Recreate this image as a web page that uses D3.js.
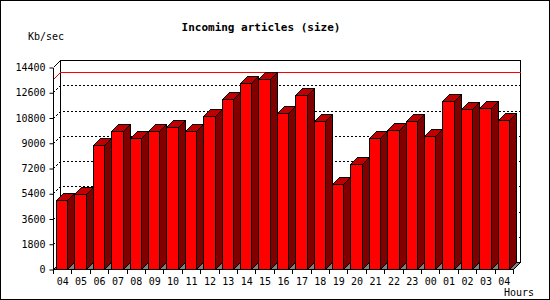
<!doctype html>
<html>
<head>
<meta charset="utf-8">
<title>Incoming articles (size)</title>
<style>
  body { margin: 0; background: #fff; }
  text { font-family: "DejaVu Sans Mono", monospace; font-size: 10px; fill: #000; }
  path, rect { shape-rendering: crispEdges; }
</style>
</head>
<body>
<svg width="550" height="300"></svg>
<script src="https://d3js.org/d3.v7.min.js"></script>
<script>
var hours = ["04","05","06","07","08","09","10","11","12","13","14","15","16",
             "17","18","19","20","21","22","23","00","01","02","03","04"];
var sizes = [4980, 5400, 8850, 9870, 9400, 9850, 10190, 9850, 10970, 12190, 13330, 13610, 11190,
             12470, 10620, 6120, 7550, 9400, 9970, 10620, 9550, 12040, 11470, 11540, 10690];
var yTicks = [0, 1800, 3600, 5400, 7200, 9000, 10800, 12600, 14400];

var svg = d3.select("svg");
var depth = 7;

// outer frame
svg.append("rect")
    .attr("x", 0.5).attr("y", 0.5)
    .attr("width", 549).attr("height", 299)
    .attr("fill", "#fff").attr("stroke", "#000");

var x = d3.scaleBand()
    .domain(d3.range(hours.length))
    .range([53.5, 53.5 + hours.length * 18.4]);

var y = d3.scaleLinear()
    .domain([0, 14400])
    .range([269.5, 67.5]);

var x0 = x.range()[0], x1 = x.range()[1];

// back wall
svg.append("path")
    .attr("d", "M" + (x0 + depth) + "," + (y(14400) - depth) +
               "H" + (x1 + depth) + "V" + (y(0) - depth) +
               "H" + (x0 + depth) + "Z")
    .attr("fill", "#fff").attr("stroke", "#000");

// floor
svg.append("path")
    .attr("d", "M" + x0 + "," + y(0) + "L" + x1 + "," + y(0) +
               "L" + (x1 + depth) + "," + (y(0) - depth) +
               "L" + (x0 + depth) + "," + (y(0) - depth) + "Z")
    .attr("fill", "#808080").attr("stroke", "#000");

// dotted grid on the wall
svg.selectAll(".grid")
    .data(yTicks.slice(1, -1))
    .enter()
    .append("path")
    .attr("d", function(d) {
        var gy = Math.round(y(d) - 0.5) + 0.5;
        return "M" + x0 + "," + gy + "L" + (x0 + depth) + "," + (gy - depth) +
               "H" + (x1 + depth);
    })
    .attr("fill", "none")
    .attr("stroke", "#000")
    .attr("stroke-dasharray", "2,2");

// top diagonal of the wall
svg.append("path")
    .attr("d", "M" + x0 + "," + y(14400) + "L" + (x0 + depth) + "," + (y(14400) - depth))
    .attr("stroke", "#000");

// max line
var ymax = Math.round(y(d3.max(sizes))) + 0.5;
svg.append("path")
    .attr("d", "M" + x0 + "," + ymax + "L" + (x0 + depth) + "," + (ymax - depth) +
               "H" + (x1 + depth))
    .attr("fill", "none")
    .attr("stroke", "#f00");

// bars
var bw = x.bandwidth() - depth;
var bars = svg.selectAll(".bar")
    .data(sizes)
    .enter()
    .append("g");

function bx(i) { return Math.round(x(i) + 2.5) + 0.5; }
function by(d) { return Math.round(y(d)) + 0.5; }
function bw2(i) { return Math.round(x(i) + 2.5 + bw) + 0.5; }

bars.append("path") // side
    .attr("d", function(d, i) {
        var r = bw2(i), t = by(d), b = y(0);
        return "M" + r + "," + b + "L" + (r + depth) + "," + (b - depth) +
               "V" + (t - depth) + "L" + r + "," + t + "Z";
    })
    .attr("fill", "#800000").attr("stroke", "#000");

bars.append("path") // top
    .attr("d", function(d, i) {
        var l = bx(i), r = bw2(i), t = by(d);
        return "M" + l + "," + t + "L" + (l + depth) + "," + (t - depth) +
               "H" + (r + depth) + "L" + r + "," + t + "Z";
    })
    .attr("fill", "#c00000").attr("stroke", "#000");

bars.append("path") // front
    .attr("d", function(d, i) {
        var l = bx(i), r = bw2(i), t = by(d), b = y(0);
        return "M" + l + "," + b + "V" + t + "H" + r + "V" + b + "Z";
    })
    .attr("fill", "#f00").attr("stroke", "#000");

// y axis
var yAxis = svg.append("g")
    .attr("transform", "translate(" + x0 + ",0)")
    .call(d3.axisLeft(y).tickValues(yTicks).tickSize(4).tickPadding(4)
        .tickFormat(d3.format("d")));
yAxis.select(".domain").attr("d", "M0," + y(14400) + "V" + y(0));
yAxis.selectAll("text").attr("font-family", null).attr("font-size", null);

// x axis
var xAxis = svg.append("g")
    .attr("transform", "translate(0," + y(0) + ")");
xAxis.append("path")
    .attr("d", "M" + x0 + ",0H" + x1)
    .attr("stroke", "#000");
xAxis.selectAll(".tick")
    .data(d3.range(hours.length + 1))
    .enter()
    .append("path")
    .attr("d", function(i) {
        var px = Math.round(x0 + i * x.step() - 0.5) + 0.5;
        return "M" + px + ",0V4";
    })
    .attr("stroke", "#000");
xAxis.selectAll(".lbl")
    .data(hours)
    .enter()
    .append("text")
    .attr("x", function(d, i) { return x(i) + x.bandwidth() / 2; })
    .attr("y", 15)
    .attr("text-anchor", "middle")
    .text(function(d) { return d; });

// titles
svg.append("text")
    .attr("x", 261).attr("y", 31)
    .attr("text-anchor", "middle")
    .style("font-weight", "bold")
    .style("font-size", "11px")
    .text("Incoming articles (size)");

svg.append("text")
    .attr("x", 28).attr("y", 40)
    .text("Kb/sec");

svg.append("text")
    .attr("x", 534).attr("y", 296)
    .attr("text-anchor", "end")
    .text("Hours");
</script>
</body>
</html>
